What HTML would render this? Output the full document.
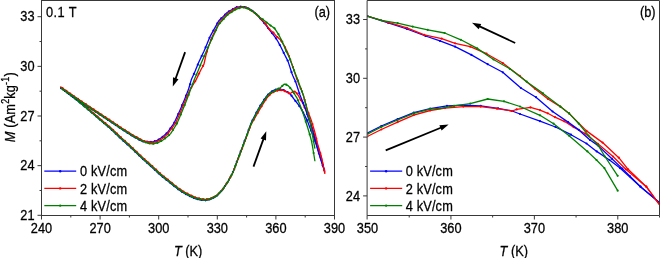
<!DOCTYPE html>
<html><head><meta charset="utf-8"><style>html,body{margin:0;padding:0;background:#fff;width:660px;height:258px;overflow:hidden}svg{display:block;will-change:transform}text{font-family:"Liberation Sans", sans-serif}</style></head><body><svg width="660" height="258" viewBox="0 0 660 258" font-family='"Liberation Sans", sans-serif' font-size="12.8" fill="#000"><defs><clipPath id="cl"><rect x="41.5" y="0.5" width="293.0" height="215.0"/></clipPath><clipPath id="cr"><rect x="367.5" y="0.5" width="292.0" height="215.0"/></clipPath></defs><g clip-path="url(#cl)"><path d="M60.40,87.60 L61.38,88.34 L62.35,89.07 L63.33,89.81 L64.31,90.54 L65.28,91.28 L66.26,92.02 L67.24,92.75 L68.21,93.49 L69.19,94.22 L70.17,94.96 L71.14,95.69 L72.12,96.43 L73.10,97.17 L74.07,97.90 L75.05,98.64 L76.03,99.45 L77.00,100.26 L77.98,101.06 L78.96,101.87 L79.93,102.68 L80.91,103.49 L81.89,104.29 L82.86,105.10 L83.84,105.91 L84.82,106.72 L85.79,107.52 L86.77,108.33 L87.75,109.14 L88.72,109.94 L89.70,110.75 L90.68,111.59 L91.65,112.44 L92.63,113.29 L93.61,114.14 L94.58,114.99 L95.56,115.84 L96.54,116.69 L97.51,117.54 L98.49,118.39 L99.47,119.24 L100.44,120.08 L101.42,120.93 L102.40,121.77 L103.37,122.61 L104.35,123.44 L105.33,124.28 L106.30,125.12 L107.28,125.95 L108.26,126.79 L109.23,127.62 L110.21,128.46 L111.19,129.32 L112.16,130.26 L113.14,131.19 L114.12,132.13 L115.09,133.06 L116.07,134.00 L117.05,134.94 L118.02,135.87 L119.00,136.81 L119.98,137.74 L120.95,138.68 L121.93,139.59 L122.91,140.46 L123.88,141.34 L124.86,142.21 L125.84,143.08 L126.81,143.95 L127.79,144.82 L128.77,145.70 L129.74,146.57 L130.72,147.49 L131.70,148.42 L132.67,149.35 L133.65,150.29 L134.63,151.22 L135.60,152.16 L136.58,153.09 L137.56,154.03 L138.53,154.96 L139.51,155.90 L140.49,156.83 L141.46,157.77 L142.44,158.65 L143.42,159.53 L144.39,160.40 L145.37,161.28 L146.35,162.16 L147.32,163.03 L148.30,163.91 L149.28,164.79 L150.25,165.66 L151.23,166.54 L152.21,167.42 L153.18,168.29 L154.16,169.20 L155.14,170.11 L156.11,171.02 L157.09,171.93 L158.07,172.85 L159.04,173.76 L160.02,174.67 L161.00,175.55 L161.97,176.33 L162.95,177.10 L163.93,177.88 L164.90,178.65 L165.88,179.43 L166.86,180.20 L167.83,181.00 L168.81,181.79 L169.79,182.58 L170.76,183.37 L171.74,184.16 L172.72,184.95 L173.69,185.72 L174.67,186.50 L175.65,187.27 L176.62,188.05 L177.60,188.82 L178.58,189.55 L179.55,190.19 L180.53,190.84 L181.51,191.48 L182.48,192.13 L183.46,192.77 L184.44,193.34 L185.41,193.86 L186.39,194.38 L187.37,194.90 L188.34,195.42 L189.32,195.95 L190.30,196.41 L191.27,196.85 L192.25,197.28 L193.23,197.72 L194.20,198.16 L195.18,198.60 L196.16,198.87 L197.13,199.09 L198.11,199.31 L199.09,199.53 L200.06,199.76 L201.04,199.98 L202.02,200.09 L202.99,200.15 L203.97,200.22 L204.95,200.29 L205.92,200.35 L206.90,200.12 L207.88,199.86 L208.85,199.60 L209.83,199.33 L210.81,199.07 L211.78,198.57 L212.76,198.06 L213.74,197.56 L214.71,197.05 L215.69,196.55 L216.67,196.01 L217.64,194.98 L218.62,193.95 L219.60,192.93 L220.57,191.90 L221.55,190.87 L222.53,189.79 L223.50,188.29 L224.48,186.80 L225.46,185.31 L226.43,183.82 L227.41,182.33 L228.39,180.80 L229.36,178.97 L230.34,177.14 L231.32,175.31 L232.29,173.47 L233.27,171.34 L234.25,168.72 L235.22,166.09 L236.20,163.47 L237.18,160.84 L238.15,158.24 L239.13,155.65 L240.11,153.05 L241.08,150.46 L242.06,147.86 L243.04,145.24 L244.01,142.58 L244.99,139.92 L245.97,137.26 L246.94,134.60 L247.92,131.88 L248.90,129.14 L249.87,126.43 L250.85,123.82 L251.83,121.62 L252.80,119.60 L253.78,117.61 L254.76,115.67 L255.73,113.79 L256.71,111.95 L257.69,110.16 L258.66,108.42 L259.64,106.72 L260.62,105.13 L261.59,103.61 L262.57,102.11 L263.55,100.63 L264.52,99.21 L265.50,97.79 L266.48,96.38 L267.45,95.11 L268.43,94.23 L269.41,93.37 L270.38,92.50 L271.36,91.74 L272.34,91.18 L273.31,90.62 L274.29,90.05 L275.27,89.61 L276.24,89.46 L277.22,89.31 L278.20,89.16 L279.17,89.12 L280.15,89.26 L281.13,89.40 L282.10,89.54 L283.08,89.76 L284.06,90.25 L285.03,90.73 L286.01,91.22 L286.99,91.71 L287.96,92.39 L288.94,93.07 L289.92,93.75 L290.89,94.88 L291.87,96.22 L292.85,97.50 L293.82,98.77 L294.80,100.04 L295.78,101.30 L296.75,102.57 L297.73,103.89 L298.71,105.21 L299.68,106.53 L300.66,107.97 L301.64,109.72 L302.61,111.47 L303.59,113.22 L304.57,115.11 L305.54,117.11 L306.52,119.11 L307.50,121.11 L308.47,123.73 L309.45,126.46 L310.43,129.04 L311.40,131.40 L312.38,133.77 L313.36,136.25 L314.33,138.97 L315.31,141.69 L316.29,144.80 L317.26,147.99 L318.24,151.19 L319.22,154.39 L320.19,157.58 L321.17,160.55 L322.15,163.49 L323.12,166.44 L324.10,169.38 L324.85,171.65" fill="none" stroke="#0000ff" stroke-width="1.3" stroke-linejoin="round"/><path d="M61.0,88.1h0M64.9,91.0h0M68.8,94.0h0M72.8,96.9h0M76.7,100.0h0M80.6,103.2h0M84.5,106.4h0M88.4,109.7h0M92.3,113.0h0M96.2,116.4h0M100.1,119.8h0M104.0,123.2h0M107.9,126.5h0M111.8,129.9h0M115.7,133.7h0M119.6,137.4h0M123.5,141.0h0M127.4,144.5h0M131.4,148.1h0M135.3,151.8h0M139.2,155.6h0M143.1,159.2h0M147.0,162.7h0M150.9,166.2h0M154.8,169.8h0M158.7,173.4h0M162.6,176.8h0M166.5,179.9h0M170.4,183.1h0M174.3,186.2h0M178.2,189.3h0M182.1,191.9h0M186.0,194.2h0M190.0,196.2h0M193.9,198.0h0M197.8,199.2h0M201.7,200.0h0M205.6,200.3h0M209.5,199.4h0M213.4,197.7h0M217.3,195.3h0M221.2,191.2h0M225.1,185.8h0M229.0,179.6h0M232.9,172.1h0M236.8,161.8h0M240.7,151.4h0M244.6,140.9h0M248.6,130.1h0M252.5,120.3h0M256.4,112.6h0M260.3,105.7h0M264.2,99.7h0M268.1,94.5h0M272.0,91.4h0M275.9,89.5h0M279.8,89.2h0M283.7,90.1h0M287.6,92.2h0M291.5,95.7h0M295.4,100.9h0M299.3,106.1h0M303.2,112.6h0M307.2,120.4h0M311.1,130.6h0M315.0,140.7h0M318.9,153.3h0M322.8,165.4h0" stroke="#0000ff" stroke-width="2.2" stroke-linecap="round" fill="none"/><path d="M60.40,86.77 L61.38,87.51 L62.35,88.24 L63.33,88.98 L64.31,89.72 L65.28,90.45 L66.26,91.19 L67.24,91.92 L68.21,92.66 L69.19,93.40 L70.17,94.13 L71.14,94.87 L72.12,95.60 L73.10,96.34 L74.07,97.07 L75.05,97.81 L76.03,98.62 L77.00,99.43 L77.98,100.24 L78.96,101.04 L79.93,101.85 L80.91,102.66 L81.89,103.47 L82.86,104.27 L83.84,105.08 L84.82,105.89 L85.79,106.69 L86.77,107.50 L87.75,108.31 L88.72,109.12 L89.70,109.92 L90.68,110.75 L91.65,111.58 L92.63,112.42 L93.61,113.25 L94.58,114.08 L95.56,114.92 L96.54,115.75 L97.51,116.58 L98.49,117.42 L99.47,118.25 L100.44,119.09 L101.42,119.92 L102.40,120.74 L103.37,121.56 L104.35,122.38 L105.33,123.20 L106.30,124.02 L107.28,124.84 L108.26,125.66 L109.23,126.47 L110.21,127.29 L111.19,128.14 L112.16,129.06 L113.14,129.99 L114.12,130.91 L115.09,131.83 L116.07,132.75 L117.05,133.67 L118.02,134.60 L119.00,135.52 L119.98,136.44 L120.95,137.36 L121.93,138.27 L122.91,139.14 L123.88,140.01 L124.86,140.88 L125.84,141.76 L126.81,142.63 L127.79,143.50 L128.77,144.37 L129.74,145.24 L130.72,146.16 L131.70,147.10 L132.67,148.03 L133.65,148.97 L134.63,149.90 L135.60,150.83 L136.58,151.77 L137.56,152.70 L138.53,153.64 L139.51,154.57 L140.49,155.51 L141.46,156.44 L142.44,157.33 L143.42,158.20 L144.39,159.08 L145.37,159.96 L146.35,160.83 L147.32,161.71 L148.30,162.59 L149.28,163.46 L150.25,164.34 L151.23,165.21 L152.21,166.09 L153.18,166.97 L154.16,167.88 L155.14,168.79 L156.11,169.70 L157.09,170.61 L158.07,171.52 L159.04,172.43 L160.02,173.34 L161.00,174.23 L161.97,175.00 L162.95,175.78 L163.93,176.55 L164.90,177.33 L165.88,178.10 L166.86,178.88 L167.83,179.67 L168.81,180.46 L169.79,181.25 L170.76,182.05 L171.74,182.84 L172.72,183.62 L173.69,184.40 L174.67,185.17 L175.65,185.95 L176.62,186.72 L177.60,187.50 L178.58,188.22 L179.55,188.87 L180.53,189.51 L181.51,190.16 L182.48,190.80 L183.46,191.45 L184.44,192.01 L185.41,192.53 L186.39,193.06 L187.37,193.58 L188.34,194.10 L189.32,194.62 L190.30,195.08 L191.27,195.52 L192.25,195.96 L193.23,196.40 L194.20,196.84 L195.18,197.27 L196.16,197.56 L197.13,197.81 L198.11,198.06 L199.09,198.31 L200.06,198.56 L201.04,198.81 L202.02,198.95 L202.99,199.06 L203.97,199.17 L204.95,199.29 L205.92,199.40 L206.90,199.21 L207.88,198.99 L208.85,198.77 L209.83,198.56 L210.81,198.34 L211.78,197.88 L212.76,197.42 L213.74,196.96 L214.71,196.49 L215.69,196.03 L216.67,195.54 L217.64,194.55 L218.62,193.57 L219.60,192.59 L220.57,191.61 L221.55,190.62 L222.53,189.58 L223.50,188.14 L224.48,186.69 L225.46,185.24 L226.43,183.80 L227.41,182.35 L228.39,180.88 L229.36,179.10 L230.34,177.32 L231.32,175.55 L232.29,173.77 L233.27,171.69 L234.25,169.12 L235.22,166.55 L236.20,163.98 L237.18,161.41 L238.15,158.87 L239.13,156.33 L240.11,153.79 L241.08,151.25 L242.06,148.71 L243.04,146.14 L244.01,143.54 L244.99,140.93 L245.97,138.33 L246.94,135.72 L247.92,133.06 L248.90,130.38 L249.87,127.74 L250.85,125.23 L251.83,123.25 L252.80,121.50 L253.78,119.77 L254.76,118.08 L255.73,116.40 L256.71,114.71 L257.69,113.01 L258.66,111.31 L259.64,109.60 L260.62,107.95 L261.59,106.33 L262.57,104.73 L263.55,103.14 L264.52,101.62 L265.50,100.09 L266.48,98.57 L267.45,97.18 L268.43,96.18 L269.41,95.19 L270.38,94.19 L271.36,93.34 L272.34,92.78 L273.31,92.21 L274.29,91.64 L275.27,91.29 L276.24,91.00 L277.22,90.71 L278.20,90.42 L279.17,90.25 L280.15,90.25 L281.13,90.25 L282.10,90.25 L283.08,90.34 L284.06,90.80 L285.03,91.25 L286.01,91.70 L286.99,92.18 L287.96,92.72 L288.94,93.26 L289.92,93.79 L290.89,93.12 L291.87,92.31 L292.85,91.80 L293.82,91.29 L294.80,91.20 L295.78,92.20 L296.75,93.20 L297.73,94.64 L298.71,96.15 L299.68,98.06 L300.66,99.82 L301.64,101.38 L302.61,103.04 L303.59,105.24 L304.57,107.43 L305.54,109.42 L306.52,111.40 L307.50,113.55 L308.47,116.37 L309.45,119.18 L310.43,122.01 L311.40,124.97 L312.38,127.93 L313.36,130.90 L314.33,134.14 L315.31,137.66 L316.29,141.18 L317.26,144.48 L318.24,147.47 L319.22,150.46 L320.19,153.44 L321.17,156.43 L322.15,160.35 L323.12,165.13 L324.10,169.91 L324.85,173.59" fill="none" stroke="#ff0000" stroke-width="1.3" stroke-linejoin="round"/><path d="M62.4,88.3h0M66.3,91.2h0M70.2,94.2h0M74.1,97.1h0M78.0,100.3h0M81.9,103.5h0M85.8,106.7h0M89.7,110.0h0M93.7,113.3h0M97.6,116.6h0M101.5,120.0h0M105.4,123.2h0M109.3,126.5h0M113.2,130.0h0M117.1,133.7h0M121.0,137.4h0M124.9,140.9h0M128.8,144.4h0M132.7,148.1h0M136.6,151.8h0M140.5,155.6h0M144.4,159.1h0M148.3,162.6h0M152.3,166.1h0M156.2,169.7h0M160.1,173.4h0M164.0,176.6h0M167.9,179.7h0M171.8,182.9h0M175.7,186.0h0M179.6,188.9h0M183.5,191.5h0M187.4,193.6h0M191.3,195.5h0M195.2,197.3h0M199.1,198.3h0M203.0,199.1h0M206.9,199.2h0M210.9,198.3h0M214.8,196.5h0M218.7,193.5h0M222.6,189.5h0M226.5,183.7h0M230.4,177.2h0M234.3,169.0h0M238.2,158.7h0M242.1,148.6h0M246.0,138.2h0M249.9,127.6h0M253.8,119.7h0M257.7,112.9h0M261.6,106.3h0M265.5,100.0h0M269.5,95.1h0M273.4,92.2h0M277.3,90.7h0M281.2,90.2h0M285.1,91.3h0M289.0,93.3h0M292.9,91.8h0M296.8,93.3h0M300.7,99.9h0M304.6,107.5h0M308.5,116.5h0M312.4,128.1h0M316.3,141.3h0M320.2,153.6h0M324.1,170.1h0" stroke="#ff0000" stroke-width="2.2" stroke-linecap="round" fill="none"/><path d="M60.40,87.60 L61.38,88.34 L62.35,89.07 L63.33,89.81 L64.31,90.54 L65.28,91.28 L66.26,92.02 L67.24,92.75 L68.21,93.49 L69.19,94.22 L70.17,94.96 L71.14,95.69 L72.12,96.43 L73.10,97.17 L74.07,97.90 L75.05,98.64 L76.03,99.45 L77.00,100.26 L77.98,101.06 L78.96,101.87 L79.93,102.68 L80.91,103.49 L81.89,104.29 L82.86,105.10 L83.84,105.91 L84.82,106.72 L85.79,107.52 L86.77,108.33 L87.75,109.14 L88.72,109.94 L89.70,110.75 L90.68,111.58 L91.65,112.41 L92.63,113.24 L93.61,114.08 L94.58,114.91 L95.56,115.75 L96.54,116.58 L97.51,117.41 L98.49,118.25 L99.47,119.08 L100.44,119.91 L101.42,120.75 L102.40,121.57 L103.37,122.39 L104.35,123.21 L105.33,124.03 L106.30,124.84 L107.28,125.66 L108.26,126.48 L109.23,127.30 L110.21,128.12 L111.19,128.97 L112.16,129.89 L113.14,130.81 L114.12,131.74 L115.09,132.66 L116.07,133.58 L117.05,134.50 L118.02,135.42 L119.00,136.35 L119.98,137.27 L120.95,138.19 L121.93,139.09 L122.91,139.97 L123.88,140.84 L124.86,141.71 L125.84,142.58 L126.81,143.45 L127.79,144.33 L128.77,145.20 L129.74,146.07 L130.72,146.99 L131.70,147.92 L132.67,148.86 L133.65,149.79 L134.63,150.73 L135.60,151.66 L136.58,152.60 L137.56,153.53 L138.53,154.47 L139.51,155.40 L140.49,156.33 L141.46,157.27 L142.44,158.15 L143.42,159.03 L144.39,159.91 L145.37,160.78 L146.35,161.66 L147.32,162.54 L148.30,163.41 L149.28,164.29 L150.25,165.17 L151.23,166.04 L152.21,166.92 L153.18,167.80 L154.16,168.70 L155.14,169.61 L156.11,170.53 L157.09,171.44 L158.07,172.35 L159.04,173.26 L160.02,174.17 L161.00,175.06 L161.97,175.83 L162.95,176.61 L163.93,177.38 L164.90,178.15 L165.88,178.93 L166.86,179.71 L167.83,180.50 L168.81,181.29 L169.79,182.08 L170.76,182.87 L171.74,183.67 L172.72,184.45 L173.69,185.23 L174.67,186.00 L175.65,186.77 L176.62,187.55 L177.60,188.32 L178.58,189.05 L179.55,189.69 L180.53,190.34 L181.51,190.98 L182.48,191.63 L183.46,192.28 L184.44,192.84 L185.41,193.36 L186.39,193.88 L187.37,194.41 L188.34,194.93 L189.32,195.45 L190.30,195.91 L191.27,196.35 L192.25,196.79 L193.23,197.23 L194.20,197.66 L195.18,198.10 L196.16,198.38 L197.13,198.61 L198.11,198.84 L199.09,199.07 L200.06,199.31 L201.04,199.54 L202.02,199.66 L202.99,199.74 L203.97,199.83 L204.95,199.91 L205.92,199.99 L206.90,199.78 L207.88,199.53 L208.85,199.29 L209.83,199.04 L210.81,198.80 L211.78,198.31 L212.76,197.82 L213.74,197.33 L214.71,196.84 L215.69,196.36 L216.67,195.83 L217.64,194.82 L218.62,193.81 L219.60,192.80 L220.57,191.79 L221.55,190.78 L222.53,189.71 L223.50,188.24 L224.48,186.76 L225.46,185.29 L226.43,183.82 L227.41,182.34 L228.39,180.84 L229.36,179.04 L230.34,177.23 L231.32,175.43 L232.29,173.62 L233.27,171.52 L234.25,168.92 L235.22,166.32 L236.20,163.73 L237.18,161.13 L238.15,158.56 L239.13,155.99 L240.11,153.42 L241.08,150.85 L242.06,148.28 L243.04,145.69 L244.01,143.06 L244.99,140.43 L245.97,137.79 L246.94,135.16 L247.92,132.47 L248.90,129.75 L249.87,127.08 L250.85,124.51 L251.83,122.36 L252.80,120.39 L253.78,118.45 L254.76,116.56 L255.73,114.70 L256.71,112.87 L257.69,111.08 L258.66,109.31 L259.64,107.57 L260.62,105.96 L261.59,104.41 L262.57,102.88 L263.55,101.38 L264.52,99.94 L265.50,98.51 L266.48,97.07 L267.45,95.77 L268.43,94.85 L269.41,93.95 L270.38,93.04 L271.36,92.33 L272.34,92.01 L273.31,91.69 L274.29,91.10 L275.27,90.49 L276.24,89.89 L277.22,89.35 L278.20,88.85 L279.17,88.35 L280.15,87.85 L281.13,87.04 L282.10,86.11 L283.08,85.18 L284.06,84.26 L285.03,84.10 L286.01,84.59 L286.99,85.09 L287.96,85.59 L288.94,86.49 L289.92,87.64 L290.89,88.78 L291.87,89.93 L292.85,91.39 L293.82,92.94 L294.80,94.49 L295.78,96.04 L296.75,97.59 L297.73,99.77 L298.71,101.94 L299.68,104.12 L300.66,106.70 L301.64,109.43 L302.61,112.15 L303.59,114.89 L304.57,117.91 L305.54,120.93 L306.52,123.95 L307.50,126.97 L308.47,130.19 L309.45,133.52 L310.43,136.98 L311.40,140.59 L312.38,145.53 L313.36,151.52 L314.33,157.50 L314.95,161.26" fill="none" stroke="#008000" stroke-width="1.3" stroke-linejoin="round"/><path d="M63.6,90.0h0M67.5,92.9h0M71.4,95.9h0M75.3,98.8h0M79.2,102.1h0M83.1,105.3h0M87.0,108.5h0M90.9,111.8h0M94.8,115.1h0M98.7,118.5h0M102.6,121.8h0M106.5,125.0h0M110.5,128.3h0M114.4,132.0h0M118.3,135.7h0M122.2,139.3h0M126.1,142.8h0M130.0,146.3h0M133.9,150.0h0M137.8,153.8h0M141.7,157.5h0M145.6,161.0h0M149.5,164.5h0M153.4,168.0h0M157.3,171.7h0M161.2,175.2h0M165.1,178.3h0M169.1,181.5h0M173.0,184.6h0M176.9,187.7h0M180.8,190.5h0M184.7,193.0h0M188.6,195.1h0M192.5,196.9h0M196.4,198.4h0M200.3,199.4h0M204.2,199.8h0M208.1,199.5h0M212.0,198.2h0M215.9,196.2h0M219.8,192.5h0M223.7,187.9h0M227.7,182.0h0M231.6,175.0h0M235.5,165.7h0M239.4,155.4h0M243.3,145.0h0M247.2,134.5h0M251.1,124.0h0M255.0,116.1h0M258.9,108.9h0M262.8,102.5h0M266.7,96.8h0M270.6,92.9h0M274.5,90.9h0M278.4,88.7h0M282.3,85.9h0M286.3,84.7h0M290.2,87.9h0M294.1,93.3h0M298.0,100.3h0M301.9,110.1h0M305.8,121.7h0M309.7,134.4h0M313.6,153.0h0" stroke="#008000" stroke-width="2.2" stroke-linecap="round" fill="none"/><path d="M60.40,87.66 L61.38,88.34 L62.35,89.02 L63.33,89.70 L64.31,90.38 L65.28,91.06 L66.26,91.74 L67.24,92.42 L68.21,93.10 L69.19,93.77 L70.17,94.45 L71.14,95.13 L72.12,95.81 L73.10,96.49 L74.07,97.17 L75.05,97.85 L76.03,98.51 L77.00,99.17 L77.98,99.83 L78.96,100.49 L79.93,101.15 L80.91,101.81 L81.89,102.47 L82.86,103.13 L83.84,103.80 L84.82,104.46 L85.79,105.12 L86.77,105.78 L87.75,106.44 L88.72,107.10 L89.70,107.76 L90.68,108.42 L91.65,109.07 L92.63,109.72 L93.61,110.37 L94.58,111.02 L95.56,111.67 L96.54,112.33 L97.51,112.98 L98.49,113.63 L99.47,114.28 L100.44,114.93 L101.42,115.58 L102.40,116.23 L103.37,116.88 L104.35,117.52 L105.33,118.17 L106.30,118.81 L107.28,119.46 L108.26,120.11 L109.23,120.75 L110.21,121.40 L111.19,122.05 L112.16,122.69 L113.14,123.34 L114.12,124.00 L115.09,124.66 L116.07,125.32 L117.05,125.98 L118.02,126.65 L119.00,127.31 L119.98,127.97 L120.95,128.63 L121.93,129.28 L122.91,129.90 L123.88,130.52 L124.86,131.14 L125.84,131.77 L126.81,132.39 L127.79,133.01 L128.77,133.63 L129.74,134.25 L130.72,134.87 L131.70,135.49 L132.67,136.11 L133.65,136.70 L134.63,137.22 L135.60,137.75 L136.58,138.28 L137.56,138.80 L138.53,139.33 L139.51,139.83 L140.49,140.32 L141.46,140.81 L142.44,141.29 L143.42,141.51 L144.39,141.57 L145.37,141.64 L146.35,141.70 L147.32,141.76 L148.30,141.81 L149.28,141.86 L150.25,141.90 L151.23,141.95 L152.21,141.99 L153.18,141.77 L154.16,141.43 L155.14,141.10 L156.11,140.76 L157.09,140.43 L158.07,139.88 L159.04,139.24 L160.02,138.60 L161.00,137.96 L161.97,137.32 L162.95,136.47 L163.93,135.62 L164.90,134.77 L165.88,133.92 L166.86,133.07 L167.83,131.99 L168.81,130.61 L169.79,129.24 L170.76,127.86 L171.74,126.48 L172.72,125.11 L173.69,123.73 L174.67,121.85 L175.65,119.73 L176.62,117.62 L177.60,115.50 L178.58,113.38 L179.55,111.24 L180.53,108.95 L181.51,106.65 L182.48,104.36 L183.46,102.07 L184.44,99.70 L185.41,97.25 L186.39,94.80 L187.37,92.34 L188.34,89.85 L189.32,86.48 L190.30,83.12 L191.27,79.83 L192.25,77.61 L193.23,75.39 L194.20,73.17 L195.18,70.95 L196.16,68.59 L197.13,66.23 L198.11,63.87 L199.09,61.52 L200.06,59.41 L201.04,57.37 L202.02,55.34 L202.99,53.30 L203.97,51.26 L204.95,48.90 L205.92,46.52 L206.90,44.14 L207.88,41.77 L208.85,39.39 L209.83,37.01 L210.81,35.14 L211.78,33.38 L212.76,31.62 L213.74,29.86 L214.71,28.09 L215.69,26.33 L216.67,24.57 L217.64,22.81 L218.62,21.04 L219.60,20.01 L220.57,19.05 L221.55,18.08 L222.53,17.12 L223.50,16.15 L224.48,15.19 L225.46,14.22 L226.43,13.25 L227.41,12.29 L228.39,11.70 L229.36,11.15 L230.34,10.60 L231.32,10.05 L232.29,9.50 L233.27,8.95 L234.25,8.40 L235.22,7.85 L236.20,7.30 L237.18,7.17 L238.15,7.04 L239.13,6.91 L240.11,6.77 L241.08,6.64 L242.06,6.69 L243.04,6.82 L244.01,6.95 L244.99,7.09 L245.97,7.22 L246.94,7.52 L247.92,8.10 L248.90,8.67 L249.87,9.25 L250.85,9.85 L251.83,10.47 L252.80,11.20 L253.78,11.96 L254.76,12.77 L255.73,13.64 L256.71,14.58 L257.69,15.58 L258.66,16.65 L259.64,17.75 L260.62,18.87 L261.59,20.00 L262.57,21.15 L263.55,22.31 L264.52,23.47 L265.50,24.62 L266.48,25.93 L267.45,27.25 L268.43,28.57 L269.41,29.90 L270.38,31.16 L271.36,32.36 L272.34,33.55 L273.31,34.74 L274.29,36.08 L275.27,37.44 L276.24,38.79 L277.22,40.29 L278.20,42.06 L279.17,43.83 L280.15,45.61 L281.13,47.48 L282.10,49.49 L283.08,51.50 L284.06,53.51 L285.03,55.46 L286.01,57.35 L286.99,59.24 L287.96,61.13 L288.94,64.08 L289.92,67.14 L290.89,70.19 L291.87,73.25 L292.85,75.78 L293.82,77.93 L294.80,80.07 L295.78,82.22 L296.75,85.21 L297.73,88.25 L298.71,91.28 L299.68,94.32 L300.66,96.74 L301.64,99.15 L302.61,101.56 L303.59,104.01 L304.57,106.58 L305.54,109.14 L306.52,112.14 L307.50,115.31 L308.47,118.48 L309.45,120.89 L310.43,123.41 L311.40,126.78 L312.38,130.15 L313.36,133.52 L314.33,136.85 L315.31,140.17 L316.29,143.55 L317.26,147.07 L318.24,150.58 L319.22,154.07 L320.19,157.55 L321.17,160.55 L322.15,163.49 L323.12,166.44 L324.10,169.38 L324.85,171.65" fill="none" stroke="#0000ff" stroke-width="1.3" stroke-linejoin="round"/><path d="M61.0,88.1h0M64.9,90.8h0M68.8,93.5h0M72.8,96.3h0M76.7,98.9h0M80.6,101.6h0M84.5,104.2h0M88.4,106.9h0M92.3,109.5h0M96.2,112.1h0M100.1,114.7h0M104.0,117.3h0M107.9,119.9h0M111.8,122.5h0M115.7,125.1h0M119.6,127.7h0M123.5,130.3h0M127.4,132.8h0M131.4,135.3h0M135.3,137.6h0M139.2,139.7h0M143.1,141.4h0M147.0,141.7h0M150.9,141.9h0M154.8,141.2h0M158.7,139.5h0M162.6,136.8h0M166.5,133.4h0M170.4,128.3h0M174.3,122.5h0M178.2,114.1h0M182.1,105.2h0M186.0,95.7h0M190.0,84.3h0M193.9,73.9h0M197.8,64.7h0M201.7,56.1h0M205.6,47.4h0M209.5,37.8h0M213.4,30.5h0M217.3,23.4h0M221.2,18.4h0M225.1,14.6h0M229.0,11.3h0M232.9,9.1h0M236.8,7.2h0M240.7,6.7h0M244.6,7.0h0M248.6,8.5h0M252.5,10.9h0M256.4,14.3h0M260.3,18.5h0M264.2,23.1h0M268.1,28.1h0M272.0,33.1h0M275.9,38.3h0M279.8,45.0h0M283.7,52.8h0M287.6,60.5h0M291.5,72.2h0M295.4,81.5h0M299.3,93.3h0M303.2,103.1h0M307.2,114.2h0M311.1,125.6h0M315.0,139.0h0M318.9,152.8h0M322.8,165.4h0" stroke="#0000ff" stroke-width="2.2" stroke-linecap="round" fill="none"/><path d="M60.40,86.77 L61.38,87.45 L62.35,88.12 L63.33,88.80 L64.31,89.48 L65.28,90.15 L66.26,90.83 L67.24,91.50 L68.21,92.18 L69.19,92.85 L70.17,93.53 L71.14,94.20 L72.12,94.88 L73.10,95.56 L74.07,96.23 L75.05,96.91 L76.03,97.56 L77.00,98.22 L77.98,98.88 L78.96,99.54 L79.93,100.19 L80.91,100.85 L81.89,101.51 L82.86,102.17 L83.84,102.82 L84.82,103.48 L85.79,104.14 L86.77,104.80 L87.75,105.46 L88.72,106.11 L89.70,106.77 L90.68,107.42 L91.65,108.07 L92.63,108.72 L93.61,109.37 L94.58,110.01 L95.56,110.66 L96.54,111.31 L97.51,111.96 L98.49,112.61 L99.47,113.26 L100.44,113.90 L101.42,114.55 L102.40,115.20 L103.37,115.84 L104.35,116.48 L105.33,117.13 L106.30,117.77 L107.28,118.41 L108.26,119.05 L109.23,119.70 L110.21,120.34 L111.19,120.98 L112.16,121.62 L113.14,122.27 L114.12,122.92 L115.09,123.58 L116.07,124.24 L117.05,124.90 L118.02,125.56 L119.00,126.22 L119.98,126.88 L120.95,127.54 L121.93,128.18 L122.91,128.80 L123.88,129.42 L124.86,130.03 L125.84,130.65 L126.81,131.27 L127.79,131.89 L128.77,132.51 L129.74,133.12 L130.72,133.74 L131.70,134.36 L132.67,134.98 L133.65,135.56 L134.63,136.08 L135.60,136.60 L136.58,137.13 L137.56,137.65 L138.53,138.17 L139.51,138.70 L140.49,139.24 L141.46,139.78 L142.44,140.33 L143.42,140.70 L144.39,140.98 L145.37,141.26 L146.35,141.55 L147.32,141.83 L148.30,142.01 L149.28,142.13 L150.25,142.25 L151.23,142.38 L152.21,142.50 L153.18,142.40 L154.16,142.20 L155.14,142.00 L156.11,141.81 L157.09,141.61 L158.07,141.14 L159.04,140.54 L160.02,139.94 L161.00,139.34 L161.97,138.74 L162.95,137.99 L163.93,137.20 L164.90,136.40 L165.88,135.61 L166.86,134.82 L167.83,133.58 L168.81,132.27 L169.79,130.96 L170.76,129.65 L171.74,128.34 L172.72,127.03 L173.69,125.72 L174.67,124.41 L175.65,122.97 L176.62,120.76 L177.60,118.55 L178.58,116.35 L179.55,114.14 L180.53,111.93 L181.51,109.60 L182.48,107.27 L183.46,104.95 L184.44,102.62 L185.41,100.30 L186.39,98.01 L187.37,95.71 L188.34,93.42 L189.32,91.13 L190.30,89.20 L191.27,87.62 L192.25,86.05 L193.23,84.47 L194.20,82.90 L195.18,81.32 L196.16,79.67 L197.13,77.64 L198.11,75.61 L199.09,73.58 L200.06,71.55 L201.04,69.53 L202.02,67.78 L202.99,66.03 L203.97,64.09 L204.95,59.74 L205.92,55.41 L206.90,51.82 L207.88,48.29 L208.85,45.60 L209.83,42.92 L210.81,40.23 L211.78,37.55 L212.76,35.57 L213.74,33.60 L214.71,31.64 L215.69,29.67 L216.67,27.70 L217.64,25.74 L218.62,23.77 L219.60,21.90 L220.57,20.89 L221.55,19.88 L222.53,18.87 L223.50,17.86 L224.48,16.84 L225.46,15.83 L226.43,14.82 L227.41,13.81 L228.39,12.95 L229.36,12.34 L230.34,11.72 L231.32,11.10 L232.29,10.48 L233.27,9.86 L234.25,9.24 L235.22,8.62 L236.20,8.00 L237.18,7.83 L238.15,7.65 L239.13,7.48 L240.11,7.30 L241.08,7.13 L242.06,7.04 L243.04,7.19 L244.01,7.34 L244.99,7.49 L245.97,7.65 L246.94,7.82 L247.92,8.41 L248.90,9.03 L249.87,9.65 L250.85,10.27 L251.83,10.90 L252.80,11.56 L253.78,12.23 L254.76,12.95 L255.73,13.72 L256.71,14.56 L257.69,15.47 L258.66,16.44 L259.64,17.46 L260.62,18.49 L261.59,19.52 L262.57,20.55 L263.55,21.58 L264.52,22.61 L265.50,23.64 L266.48,25.00 L267.45,26.41 L268.43,27.82 L269.41,29.24 L270.38,30.20 L271.36,30.99 L272.34,31.78 L273.31,32.57 L274.29,33.59 L275.27,34.80 L276.24,36.01 L277.22,37.08 L278.20,37.87 L279.17,38.66 L280.15,39.45 L281.13,40.77 L282.10,42.29 L283.08,43.80 L284.06,45.31 L285.03,47.23 L286.01,49.24 L286.99,51.25 L287.96,53.26 L288.94,55.88 L289.92,58.55 L290.89,61.23 L291.87,63.90 L292.85,66.84 L293.82,69.82 L294.80,72.81 L295.78,75.74 L296.75,78.51 L297.73,81.28 L298.71,84.01 L299.68,86.18 L300.66,88.36 L301.64,90.61 L302.61,93.33 L303.59,96.07 L304.57,99.61 L305.54,103.15 L306.52,106.70 L307.50,110.24 L308.47,112.94 L309.45,115.50 L310.43,118.06 L311.40,120.62 L312.38,123.90 L313.36,127.18 L314.33,130.47 L315.31,133.87 L316.29,138.26 L317.26,142.66 L318.24,146.15 L319.22,149.52 L320.19,152.88 L321.17,156.25 L322.15,160.35 L323.12,165.13 L324.10,169.91 L324.85,173.59" fill="none" stroke="#ff0000" stroke-width="1.3" stroke-linejoin="round"/><path d="M62.4,88.2h0M66.3,90.9h0M70.2,93.6h0M74.1,96.3h0M78.0,98.9h0M81.9,101.5h0M85.8,104.2h0M89.7,106.8h0M93.7,109.4h0M97.6,112.0h0M101.5,114.6h0M105.4,117.2h0M109.3,119.7h0M113.2,122.3h0M117.1,124.9h0M121.0,127.6h0M124.9,130.1h0M128.8,132.5h0M132.7,135.0h0M136.6,137.2h0M140.5,139.3h0M144.4,141.0h0M148.3,142.0h0M152.3,142.5h0M156.2,141.8h0M160.1,139.9h0M164.0,137.2h0M167.9,133.5h0M171.8,128.3h0M175.7,122.9h0M179.6,114.0h0M183.5,104.8h0M187.4,95.6h0M191.3,87.5h0M195.2,81.2h0M199.1,73.5h0M203.0,65.9h0M206.9,51.6h0M210.9,40.1h0M214.8,31.5h0M218.7,23.7h0M222.6,18.8h0M226.5,14.8h0M230.4,11.7h0M234.3,9.2h0M238.2,7.6h0M242.1,7.0h0M246.0,7.7h0M249.9,9.7h0M253.8,12.3h0M257.7,15.5h0M261.6,19.6h0M265.5,23.7h0M269.5,29.3h0M273.4,32.6h0M277.3,37.1h0M281.2,40.8h0M285.1,47.3h0M289.0,56.0h0M292.9,67.0h0M296.8,78.6h0M300.7,88.5h0M304.6,99.8h0M308.5,113.1h0M312.4,124.1h0M316.3,138.5h0M320.2,153.0h0M324.1,170.1h0" stroke="#ff0000" stroke-width="2.2" stroke-linecap="round" fill="none"/><path d="M60.40,87.60 L61.38,88.28 L62.35,88.95 L63.33,89.63 L64.31,90.30 L65.28,90.98 L66.26,91.65 L67.24,92.33 L68.21,93.01 L69.19,93.68 L70.17,94.36 L71.14,95.03 L72.12,95.71 L73.10,96.38 L74.07,97.06 L75.05,97.73 L76.03,98.39 L77.00,99.05 L77.98,99.71 L78.96,100.36 L79.93,101.02 L80.91,101.68 L81.89,102.34 L82.86,102.99 L83.84,103.65 L84.82,104.31 L85.79,104.97 L86.77,105.63 L87.75,106.28 L88.72,106.94 L89.70,107.60 L90.68,108.25 L91.65,108.90 L92.63,109.55 L93.61,110.19 L94.58,110.84 L95.56,111.49 L96.54,112.14 L97.51,112.79 L98.49,113.44 L99.47,114.08 L100.44,114.73 L101.42,115.38 L102.40,116.02 L103.37,116.67 L104.35,117.31 L105.33,117.95 L106.30,118.60 L107.28,119.24 L108.26,119.88 L109.23,120.52 L110.21,121.17 L111.19,121.81 L112.16,122.45 L113.14,123.09 L114.12,123.75 L115.09,124.41 L116.07,125.07 L117.05,125.73 L118.02,126.39 L119.00,127.05 L119.98,127.70 L120.95,128.36 L121.93,129.01 L122.91,129.63 L123.88,130.24 L124.86,130.86 L125.84,131.48 L126.81,132.10 L127.79,132.71 L128.77,133.33 L129.74,133.95 L130.72,134.57 L131.70,135.19 L132.67,135.80 L133.65,136.39 L134.63,136.91 L135.60,137.43 L136.58,137.95 L137.56,138.48 L138.53,139.00 L139.51,139.51 L140.49,140.01 L141.46,140.51 L142.44,141.02 L143.42,141.45 L144.39,141.85 L145.37,142.25 L146.35,142.65 L147.32,143.05 L148.30,143.29 L149.28,143.43 L150.25,143.57 L151.23,143.71 L152.21,143.86 L153.18,143.76 L154.16,143.56 L155.14,143.36 L156.11,143.16 L157.09,142.96 L158.07,142.57 L159.04,142.08 L160.02,141.59 L161.00,141.10 L161.97,140.61 L162.95,139.95 L163.93,139.24 L164.90,138.53 L165.88,137.82 L166.86,137.10 L167.83,136.21 L168.81,135.28 L169.79,134.36 L170.76,133.43 L171.74,131.95 L172.72,130.37 L173.69,128.79 L174.67,127.22 L175.65,125.64 L176.62,124.07 L177.60,122.12 L178.58,119.80 L179.55,117.49 L180.53,115.17 L181.51,112.86 L182.48,110.47 L183.46,108.06 L184.44,105.65 L185.41,103.24 L186.39,100.83 L187.37,98.19 L188.34,95.55 L189.32,92.92 L190.30,90.28 L191.27,87.64 L192.25,85.00 L193.23,82.36 L194.20,79.76 L195.18,77.49 L196.16,75.22 L197.13,72.95 L198.11,70.67 L199.09,68.33 L200.06,65.94 L201.04,63.56 L202.02,61.18 L202.99,58.88 L203.97,56.66 L204.95,54.44 L205.92,52.22 L206.90,50.00 L207.88,47.80 L208.85,45.61 L209.83,43.41 L210.81,41.25 L211.78,39.16 L212.76,37.08 L213.74,34.99 L214.71,32.91 L215.69,30.82 L216.67,28.74 L217.64,26.66 L218.62,24.57 L219.60,23.42 L220.57,22.36 L221.55,21.29 L222.53,20.23 L223.50,19.16 L224.48,18.09 L225.46,17.03 L226.43,15.96 L227.41,14.90 L228.39,14.22 L229.36,13.58 L230.34,12.94 L231.32,12.30 L232.29,11.66 L233.27,11.02 L234.25,10.38 L235.22,9.74 L236.20,9.10 L237.18,8.81 L238.15,8.52 L239.13,8.24 L240.11,7.95 L241.08,7.66 L242.06,7.37 L243.04,7.47 L244.01,7.69 L244.99,7.92 L245.97,8.14 L246.94,8.37 L247.92,8.62 L248.90,9.06 L249.87,9.67 L250.85,10.29 L251.83,10.91 L252.80,11.56 L253.78,12.23 L254.76,12.94 L255.73,13.71 L256.71,14.53 L257.69,15.39 L258.66,16.28 L259.64,17.18 L260.62,17.92 L261.59,18.60 L262.57,19.24 L263.55,19.88 L264.52,20.68 L265.50,21.49 L266.48,22.30 L267.45,23.09 L268.43,23.86 L269.41,24.63 L270.38,25.40 L271.36,26.06 L272.34,26.71 L273.31,27.35 L274.29,28.00 L275.27,29.35 L276.24,30.83 L277.22,32.31 L278.20,33.78 L279.17,35.63 L280.15,37.49 L281.13,39.34 L282.10,41.23 L283.08,43.63 L284.06,46.03 L285.03,48.43 L286.01,50.77 L286.99,52.78 L287.96,54.79 L288.94,56.80 L289.92,58.97 L290.89,61.66 L291.87,64.35 L292.85,67.04 L293.82,69.69 L294.80,72.22 L295.78,74.75 L296.75,77.28 L297.73,79.85 L298.71,82.54 L299.68,85.23 L300.66,87.91 L301.64,90.61 L302.61,93.33 L303.59,96.07 L304.57,99.81 L305.54,103.55 L306.52,107.67 L307.50,111.95 L308.47,115.96 L309.45,119.48 L310.43,123.28 L311.40,129.12 L312.38,134.72 L313.36,140.03 L314.33,145.34 L314.95,148.68" fill="none" stroke="#008000" stroke-width="1.3" stroke-linejoin="round"/><path d="M63.6,89.8h0M67.5,92.5h0M71.4,95.2h0M75.3,97.9h0M79.2,100.5h0M83.1,103.2h0M87.0,105.8h0M90.9,108.4h0M94.8,111.0h0M98.7,113.6h0M102.6,116.2h0M106.5,118.8h0M110.5,121.3h0M114.4,123.9h0M118.3,126.6h0M122.2,129.2h0M126.1,131.6h0M130.0,134.1h0M133.9,136.5h0M137.8,138.6h0M141.7,140.6h0M145.6,142.3h0M149.5,143.5h0M153.4,143.7h0M157.3,142.9h0M161.2,141.0h0M165.1,138.4h0M169.1,135.1h0M173.0,130.0h0M176.9,123.6h0M180.8,114.6h0M184.7,105.0h0M188.6,94.9h0M192.5,84.3h0M196.4,74.7h0M200.3,65.4h0M204.2,56.1h0M208.1,47.3h0M212.0,38.6h0M215.9,30.3h0M219.8,23.2h0M223.7,18.9h0M227.7,14.7h0M231.6,12.1h0M235.5,9.6h0M239.4,8.2h0M243.3,7.5h0M247.2,8.4h0M251.1,10.4h0M255.0,13.1h0M258.9,16.5h0M262.8,19.4h0M266.7,22.5h0M270.6,25.6h0M274.5,28.3h0M278.4,34.2h0M282.3,41.8h0M286.3,51.3h0M290.2,59.6h0M294.1,70.3h0M298.0,80.5h0M301.9,91.3h0M305.8,104.6h0M309.7,120.4h0M313.6,141.4h0" stroke="#008000" stroke-width="2.2" stroke-linecap="round" fill="none"/></g><g clip-path="url(#cr)"><path d="M367.30,133.00 L381.30,126.00 L397.60,119.10 L413.80,112.60 L430.10,108.60 L447.00,105.90 L463.30,105.20 L480.70,105.90 L498.10,108.30 L512.10,111.00 L520.00,114.00 L540.00,121.20 L555.50,127.00 L571.00,134.70 L586.50,143.50 L596.70,151.40 L609.50,160.00 L620.00,168.10 L640.50,186.70 L660.00,203.00" fill="none" stroke="#0000ff" stroke-width="1.3" stroke-linejoin="round"/><path d="M367.3,133.0h0M381.3,126.0h0M397.6,119.1h0M413.8,112.6h0M430.1,108.6h0M447.0,105.9h0M463.3,105.2h0M480.7,105.9h0M498.1,108.3h0M512.1,111.0h0M520.0,114.0h0M540.0,121.2h0M555.5,127.0h0M571.0,134.7h0M586.5,143.5h0M596.7,151.4h0M609.5,160.0h0M620.0,168.1h0M640.5,186.7h0M660.0,203.0h0" stroke="#0000ff" stroke-width="2.2" stroke-linecap="round" fill="none"/><path d="M367.30,136.50 L381.30,129.50 L397.60,122.10 L413.80,115.10 L430.10,110.50 L445.00,108.10 L463.30,106.60 L480.70,106.60 L497.00,108.70 L512.10,111.00 L516.70,109.40 L530.50,107.40 L540.00,110.10 L547.80,113.30 L555.00,117.20 L564.30,121.30 L573.60,127.10 L585.00,133.50 L597.90,143.80 L613.00,156.50 L625.80,169.30 L646.30,186.70 L660.00,205.30" fill="none" stroke="#ff0000" stroke-width="1.3" stroke-linejoin="round"/><path d="M367.3,136.5h0M381.3,129.5h0M397.6,122.1h0M413.8,115.1h0M430.1,110.5h0M445.0,108.1h0M463.3,106.6h0M480.7,106.6h0M497.0,108.7h0M512.1,111.0h0M516.7,109.4h0M530.5,107.4h0M540.0,110.1h0M547.8,113.3h0M555.0,117.2h0M564.3,121.3h0M573.6,127.1h0M585.0,133.5h0M597.9,143.8h0M613.0,156.5h0M625.8,169.3h0M646.3,186.7h0M660.0,205.3h0" stroke="#ff0000" stroke-width="2.2" stroke-linecap="round" fill="none"/><path d="M367.30,134.20 L381.30,127.00 L397.60,120.00 L413.80,113.40 L430.10,109.20 L440.00,108.30 L454.00,105.90 L470.20,103.60 L487.70,99.00 L504.00,101.30 L520.00,106.50 L540.00,115.30 L553.60,123.70 L569.10,135.70 L587.40,151.40 L596.50,160.00 L604.40,168.10 L617.70,190.70" fill="none" stroke="#008000" stroke-width="1.3" stroke-linejoin="round"/><path d="M367.3,134.2h0M381.3,127.0h0M397.6,120.0h0M413.8,113.4h0M430.1,109.2h0M440.0,108.3h0M454.0,105.9h0M470.2,103.6h0M487.7,99.0h0M504.0,101.3h0M520.0,106.5h0M540.0,115.3h0M553.6,123.7h0M569.1,135.7h0M587.4,151.4h0M596.5,160.0h0M604.4,168.1h0M617.7,190.7h0" stroke="#008000" stroke-width="2.2" stroke-linecap="round" fill="none"/><path d="M367.30,16.20 L388.30,22.90 L406.90,29.00 L425.50,36.00 L440.00,40.90 L455.10,46.70 L471.40,54.90 L487.70,64.20 L502.80,72.30 L520.90,88.00 L536.00,97.20 L552.60,111.50 L568.10,122.10 L578.80,129.90 L590.00,140.00 L597.90,145.40 L611.90,158.80 L622.30,168.60 L630.00,176.30 L640.50,186.70 L660.00,203.00" fill="none" stroke="#0000ff" stroke-width="1.3" stroke-linejoin="round"/><path d="M367.3,16.2h0M388.3,22.9h0M406.9,29.0h0M425.5,36.0h0M440.0,40.9h0M455.1,46.7h0M471.4,54.9h0M487.7,64.2h0M502.8,72.3h0M520.9,88.0h0M536.0,97.2h0M552.6,111.5h0M568.1,122.1h0M578.8,129.9h0M590.0,140.0h0M597.9,145.4h0M611.9,158.8h0M622.3,168.6h0M630.0,176.3h0M640.5,186.7h0M660.0,203.0h0" stroke="#0000ff" stroke-width="2.2" stroke-linecap="round" fill="none"/><path d="M367.30,16.20 L388.30,22.40 L406.90,27.80 L424.30,34.80 L441.70,38.70 L455.10,43.30 L470.20,46.70 L486.50,53.70 L502.80,63.00 L519.80,75.90 L534.90,88.70 L548.00,99.00 L560.30,106.60 L569.10,113.40 L586.50,130.90 L602.60,142.60 L618.80,157.70 L628.10,169.30 L646.30,186.70 L660.00,205.30" fill="none" stroke="#ff0000" stroke-width="1.3" stroke-linejoin="round"/><path d="M367.3,16.2h0M388.3,22.4h0M406.9,27.8h0M424.3,34.8h0M441.7,38.7h0M455.1,43.3h0M470.2,46.7h0M486.5,53.7h0M502.8,63.0h0M519.8,75.9h0M534.9,88.7h0M548.0,99.0h0M560.3,106.6h0M569.1,113.4h0M586.5,130.9h0M602.6,142.6h0M618.8,157.7h0M628.1,169.3h0M646.3,186.7h0M660.0,205.3h0" stroke="#ff0000" stroke-width="2.2" stroke-linecap="round" fill="none"/><path d="M367.30,16.20 L381.30,20.30 L397.60,23.10 L412.70,26.60 L427.80,29.90 L444.70,33.00 L460.90,39.80 L477.20,48.40 L493.50,59.50 L509.80,68.80 L526.70,81.70 L543.00,93.40 L560.30,106.60 L569.10,113.40 L578.80,123.70 L588.60,135.60 L597.90,144.90 L604.90,156.50 L617.70,175.80" fill="none" stroke="#008000" stroke-width="1.3" stroke-linejoin="round"/><path d="M367.3,16.2h0M381.3,20.3h0M397.6,23.1h0M412.7,26.6h0M427.8,29.9h0M444.7,33.0h0M460.9,39.8h0M477.2,48.4h0M493.5,59.5h0M509.8,68.8h0M526.7,81.7h0M543.0,93.4h0M560.3,106.6h0M569.1,113.4h0M578.8,123.7h0M588.6,135.6h0M597.9,144.9h0M604.9,156.5h0M617.7,175.8h0" stroke="#008000" stroke-width="2.2" stroke-linecap="round" fill="none"/></g><rect x="41.5" y="0.5" width="293.0" height="215.0" fill="none" stroke="#383838" stroke-width="1"/><path d="M367.1,0.5H659.5V215.5H367.1Z" fill="none" stroke="#383838" stroke-width="1"/><line x1="41.50" y1="215.5" x2="41.50" y2="219.5" stroke="#383838"/><line x1="100.10" y1="215.5" x2="100.10" y2="219.5" stroke="#383838"/><line x1="158.70" y1="215.5" x2="158.70" y2="219.5" stroke="#383838"/><line x1="217.30" y1="215.5" x2="217.30" y2="219.5" stroke="#383838"/><line x1="275.90" y1="215.5" x2="275.90" y2="219.5" stroke="#383838"/><line x1="334.50" y1="215.5" x2="334.50" y2="219.5" stroke="#383838"/><line x1="70.80" y1="215.5" x2="70.80" y2="217.5" stroke="#383838"/><line x1="129.40" y1="215.5" x2="129.40" y2="217.5" stroke="#383838"/><line x1="188.00" y1="215.5" x2="188.00" y2="217.5" stroke="#383838"/><line x1="246.60" y1="215.5" x2="246.60" y2="217.5" stroke="#383838"/><line x1="305.20" y1="215.5" x2="305.20" y2="217.5" stroke="#383838"/><line x1="37.5" y1="215.30" x2="41.5" y2="215.30" stroke="#383838"/><line x1="37.5" y1="165.65" x2="41.5" y2="165.65" stroke="#383838"/><line x1="37.5" y1="116.00" x2="41.5" y2="116.00" stroke="#383838"/><line x1="37.5" y1="66.35" x2="41.5" y2="66.35" stroke="#383838"/><line x1="37.5" y1="16.70" x2="41.5" y2="16.70" stroke="#383838"/><line x1="39.5" y1="190.47" x2="41.5" y2="190.47" stroke="#383838"/><line x1="39.5" y1="140.82" x2="41.5" y2="140.82" stroke="#383838"/><line x1="39.5" y1="91.18" x2="41.5" y2="91.18" stroke="#383838"/><line x1="39.5" y1="41.53" x2="41.5" y2="41.53" stroke="#383838"/><line x1="367.10" y1="215.5" x2="367.10" y2="219.5" stroke="#383838"/><line x1="450.93" y1="215.5" x2="450.93" y2="219.5" stroke="#383838"/><line x1="534.36" y1="215.5" x2="534.36" y2="219.5" stroke="#383838"/><line x1="617.79" y1="215.5" x2="617.79" y2="219.5" stroke="#383838"/><line x1="409.21" y1="215.5" x2="409.21" y2="217.5" stroke="#383838"/><line x1="492.64" y1="215.5" x2="492.64" y2="217.5" stroke="#383838"/><line x1="576.07" y1="215.5" x2="576.07" y2="217.5" stroke="#383838"/><line x1="659.50" y1="215.5" x2="659.50" y2="217.5" stroke="#383838"/><line x1="363.1" y1="195.90" x2="367.1" y2="195.90" stroke="#383838"/><line x1="363.1" y1="137.10" x2="367.1" y2="137.10" stroke="#383838"/><line x1="363.1" y1="78.30" x2="367.1" y2="78.30" stroke="#383838"/><line x1="363.1" y1="19.50" x2="367.1" y2="19.50" stroke="#383838"/><line x1="365.1" y1="166.50" x2="367.1" y2="166.50" stroke="#383838"/><line x1="365.1" y1="107.70" x2="367.1" y2="107.70" stroke="#383838"/><line x1="365.1" y1="48.90" x2="367.1" y2="48.90" stroke="#383838"/><line x1="44.3" y1="171.2" x2="76.2" y2="171.2" stroke="#0000ff" stroke-width="1.3"/><circle cx="60.2" cy="171.2" r="1.2" fill="#0000ff"/><line x1="44.3" y1="188.4" x2="76.2" y2="188.4" stroke="#ff0000" stroke-width="1.3"/><circle cx="60.2" cy="188.4" r="1.2" fill="#ff0000"/><line x1="44.3" y1="205.6" x2="76.2" y2="205.6" stroke="#008000" stroke-width="1.3"/><circle cx="60.2" cy="205.6" r="1.2" fill="#008000"/><line x1="370.1" y1="171.2" x2="402.2" y2="171.2" stroke="#0000ff" stroke-width="1.3"/><circle cx="386.1" cy="171.2" r="1.2" fill="#0000ff"/><line x1="370.1" y1="188.4" x2="402.2" y2="188.4" stroke="#ff0000" stroke-width="1.3"/><circle cx="386.1" cy="188.4" r="1.2" fill="#ff0000"/><line x1="370.1" y1="205.6" x2="402.2" y2="205.6" stroke="#008000" stroke-width="1.3"/><circle cx="386.1" cy="205.6" r="1.2" fill="#008000"/><line x1="185.1" y1="52.1" x2="175.4" y2="79.2" stroke="#000" stroke-width="1.8"/><polygon points="172.8,86.5 173.0,77.2 178.5,79.2" fill="#000"/><line x1="253.5" y1="166.6" x2="263.6" y2="138.6" stroke="#000" stroke-width="1.8"/><polygon points="266.3,131.3 266.0,140.6 260.6,138.6" fill="#000"/><line x1="515.2" y1="43.0" x2="479.1" y2="26.1" stroke="#000" stroke-width="1.8"/><polygon points="472.0,22.8 481.2,23.9 478.7,29.2" fill="#000"/><line x1="385.7" y1="150.3" x2="441.4" y2="127.5" stroke="#000" stroke-width="1.8"/><polygon points="448.6,124.5 441.6,130.5 439.4,125.2" fill="#000"/><g stroke="#000" stroke-width="0.25"><text transform="translate(41.50,233.00) scale(1.0,1.12)" text-anchor="middle">240</text><text transform="translate(100.10,233.00) scale(1.0,1.12)" text-anchor="middle">270</text><text transform="translate(158.70,233.00) scale(1.0,1.12)" text-anchor="middle">300</text><text transform="translate(217.30,233.00) scale(1.0,1.12)" text-anchor="middle">330</text><text transform="translate(275.90,233.00) scale(1.0,1.12)" text-anchor="middle">360</text><text transform="translate(334.50,233.00) scale(1.0,1.12)" text-anchor="middle">390</text><text transform="translate(34.60,220.00) scale(1.0,1.12)" text-anchor="end">21</text><text transform="translate(34.60,170.35) scale(1.0,1.12)" text-anchor="end">24</text><text transform="translate(34.60,120.70) scale(1.0,1.12)" text-anchor="end">27</text><text transform="translate(34.60,71.05) scale(1.0,1.12)" text-anchor="end">30</text><text transform="translate(34.60,21.40) scale(1.0,1.12)" text-anchor="end">33</text><text transform="translate(367.50,233.00) scale(1.0,1.12)" text-anchor="middle">350</text><text transform="translate(450.93,233.00) scale(1.0,1.12)" text-anchor="middle">360</text><text transform="translate(534.36,233.00) scale(1.0,1.12)" text-anchor="middle">370</text><text transform="translate(617.79,233.00) scale(1.0,1.12)" text-anchor="middle">380</text><text transform="translate(360.00,200.60) scale(1.0,1.12)" text-anchor="end">24</text><text transform="translate(360.00,141.80) scale(1.0,1.12)" text-anchor="end">27</text><text transform="translate(360.00,83.00) scale(1.0,1.12)" text-anchor="end">30</text><text transform="translate(360.00,24.20) scale(1.0,1.12)" text-anchor="end">33</text><text transform="translate(46.00,16.50) scale(1.0,1.12)"><tspan letter-spacing="0.4">0.1 T</tspan></text><text transform="translate(314.50,17.00) scale(1.0,1.12)">(a)</text><text transform="translate(639.90,17.00) scale(1.0,1.12)">(b)</text><text transform="translate(173.90,256.20) scale(1.0,1.12)"><tspan font-style="italic">T</tspan> (K)</text><text transform="translate(499.60,256.20) scale(1.0,1.12)"><tspan font-style="italic">T</tspan> (K)</text><text transform="translate(14.5,142.3) rotate(-90) scale(1.0,1.12)" letter-spacing="0.15"><tspan font-style="italic">M</tspan> (Am<tspan font-size="9" dy="-5">2</tspan><tspan dy="5">kg</tspan><tspan font-size="9" dy="-5">-1</tspan><tspan dy="5">)</tspan></text><text transform="translate(80.00,176.30) scale(1.0,1.12)"><tspan letter-spacing="0.15">0 kV/cm</tspan></text><text transform="translate(80.00,193.50) scale(1.0,1.12)"><tspan letter-spacing="0.15">2 kV/cm</tspan></text><text transform="translate(80.00,210.70) scale(1.0,1.12)"><tspan letter-spacing="0.15">4 kV/cm</tspan></text><text transform="translate(405.70,176.30) scale(1.0,1.12)"><tspan letter-spacing="0.15">0 kV/cm</tspan></text><text transform="translate(405.70,193.50) scale(1.0,1.12)"><tspan letter-spacing="0.15">2 kV/cm</tspan></text><text transform="translate(405.70,210.70) scale(1.0,1.12)"><tspan letter-spacing="0.15">4 kV/cm</tspan></text></g></svg></body></html>
